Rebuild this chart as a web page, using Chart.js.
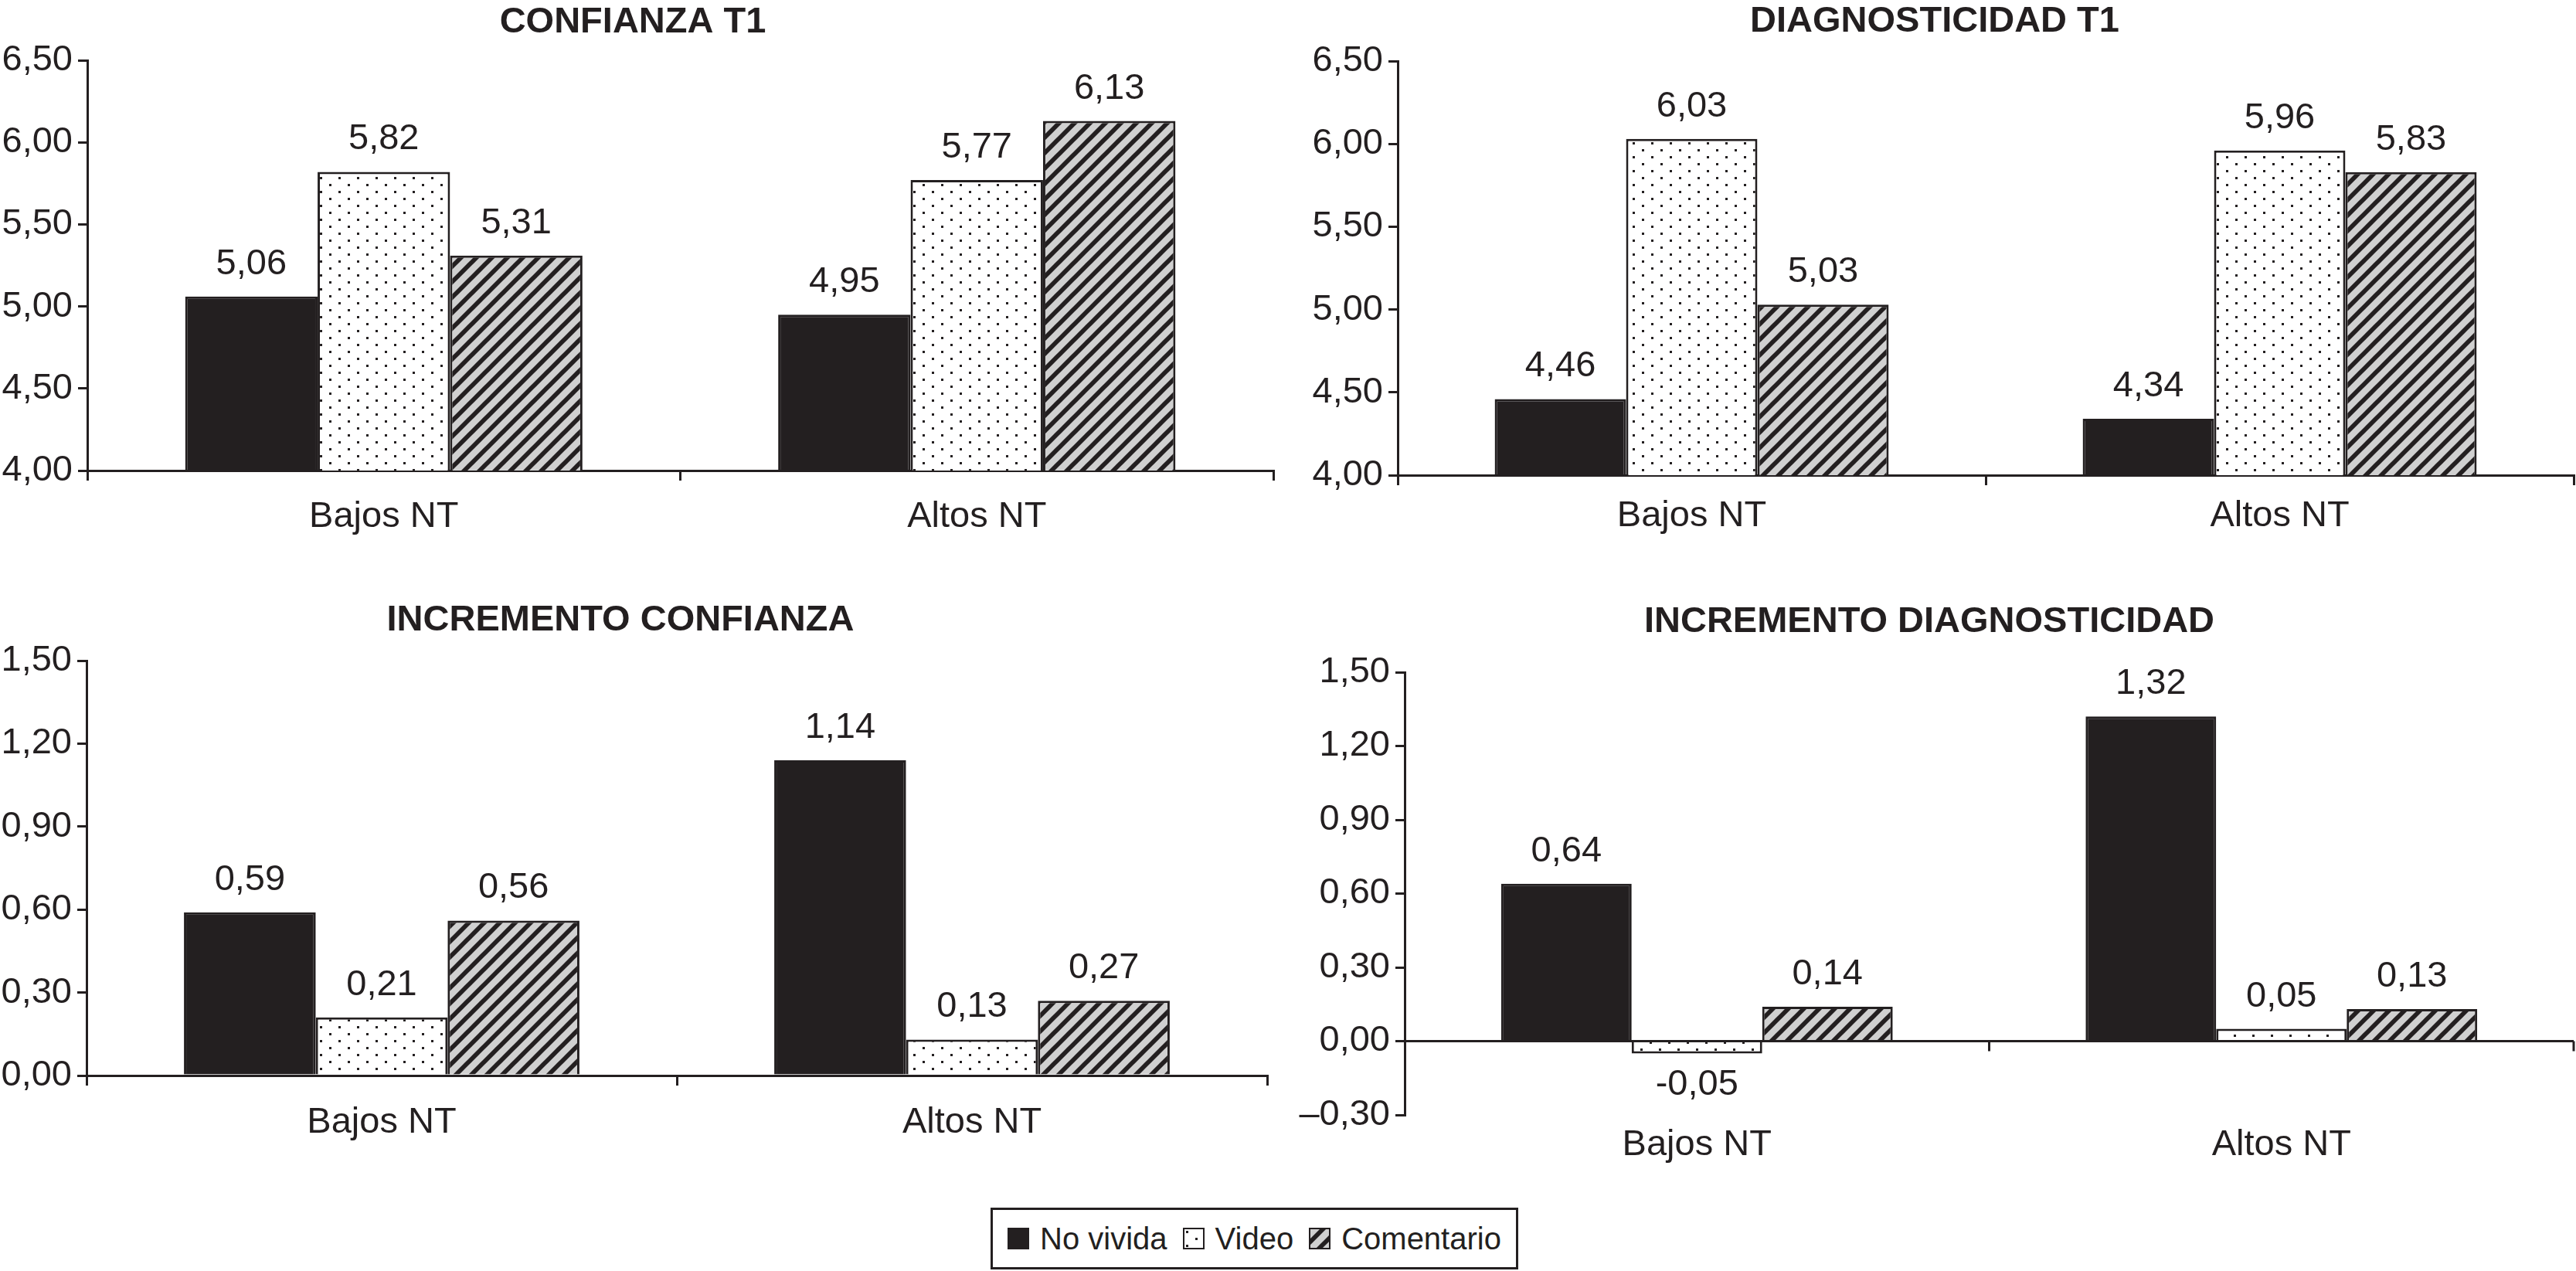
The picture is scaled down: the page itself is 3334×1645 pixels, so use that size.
<!DOCTYPE html>
<html>
<head>
<meta charset="utf-8">
<script src="https://cdn.jsdelivr.net/npm/chart.js@4.4.1/dist/chart.umd.min.js"></script>
<style>
  html, body { margin:0; padding:0; background:#fff; width:3334px; height:1645px; overflow:hidden; position:relative; }
  canvas.panel { position:absolute; }
  #legend { position:absolute; left:1282px; top:1563px; width:683px; height:80px; box-sizing:border-box;
            border:3px solid #231f20; display:flex; align-items:center; justify-content:center;
            font-family:"Liberation Sans", Arial, sans-serif; font-size:40px; color:#231f20; }
  #legend .item { display:flex; align-items:center; margin:0 10px; }
  #legend canvas { margin-right:14px; }
</style>
</head>
<body>
<canvas id="p1" class="panel"></canvas>
<canvas id="p2" class="panel"></canvas>
<canvas id="p3" class="panel"></canvas>
<canvas id="p4" class="panel"></canvas>
<div id="legend"></div>
<script>
// ---------- DATA ----------
const categories = ['Bajos NT', 'Altos NT'];
const seriesNames = ['No vivida', 'Video', 'Comentario'];

const confianzaT1NoVivida   = [5.06, 4.95];
const confianzaT1Video      = [5.82, 5.77];
const confianzaT1Comentario = [5.31, 6.13];

const diagT1NoVivida   = [4.46, 4.34];
const diagT1Video      = [6.03, 5.96];
const diagT1Comentario = [5.03, 5.83];

const incConfNoVivida   = [0.59, 1.14];
const incConfVideo      = [0.21, 0.13];
const incConfComentario = [0.56, 0.27];

const incDiagNoVivida   = [0.64, 1.32];
const incDiagVideo      = [-0.05, 0.05];
const incDiagComentario = [0.14, 0.13];

const ticksT1      = [4.00, 4.50, 5.00, 5.50, 6.00, 6.50];
const ticksIncConf = [0.00, 0.30, 0.60, 0.90, 1.20, 1.50];
const ticksIncDiag = [-0.30, 0.00, 0.30, 0.60, 0.90, 1.20, 1.50];

const titles = ['CONFIANZA T1', 'DIAGNOSTICIDAD T1', 'INCREMENTO CONFIANZA', 'INCREMENTO DIAGNOSTICIDAD'];

// ---------- STYLE ----------
const INK = '#231f20';
const FONT = '"Liberation Sans", Arial, sans-serif';
const GRAY = '#d0d0d0';

function makeDotTile() {
  const w = 24, h = 18;
  const c = document.createElement('canvas'); c.width = w; c.height = h;
  const g = c.getContext('2d');
  g.fillStyle = '#ffffff'; g.fillRect(0, 0, w, h);
  g.fillStyle = INK; g.fillRect(4, 4, 3, 3); g.fillRect(16, 13, 3, 3);
  return c;
}
function makeStripeTile() {
  const s = 20;
  const c = document.createElement('canvas'); c.width = s; c.height = s;
  const g = c.getContext('2d');
  g.fillStyle = GRAY; g.fillRect(0, 0, s, s);
  g.strokeStyle = INK; g.lineWidth = 5.8; g.lineCap = 'square';
  for (let k = -1; k <= 1; k++) {
    g.beginPath(); g.moveTo(k * s, s); g.lineTo(k * s + s, 0); g.stroke();
  }
  return c;
}
const dotTile = makeDotTile();
const stripeTile = makeStripeTile();
const patCtx = document.createElement('canvas').getContext('2d');
const dotPattern = patCtx.createPattern(dotTile, 'repeat');
const stripePattern = patCtx.createPattern(stripeTile, 'repeat');
const fills = [INK, dotPattern, stripePattern];

function fmtTick(v) {
  return Number(v).toFixed(2).replace('.', ',').replace('-', '\u2013');
}
function fmtValue(v) {
  return Number(v).toFixed(2).replace('.', ',');
}

const valueLabels = {
  id: 'valueLabels',
  afterDatasetsDraw(chart) {
    const ctx = chart.ctx;
    ctx.save();
    ctx.font = '47px ' + FONT;
    ctx.fillStyle = INK; ctx.textAlign = 'center'; ctx.textBaseline = 'middle';
    chart.data.datasets.forEach((ds, di) => {
      const meta = chart.getDatasetMeta(di);
      meta.data.forEach((bar, i) => {
        const v = ds.data[i];
        const y = v >= 0 ? bar.y - 42 : bar.y + 41;
        ctx.fillText(fmtValue(v), bar.x, y);
      });
    });
    ctx.restore();
  }
};

const zeroDividers = {
  id: 'zeroDividers',
  afterDatasetsDraw(chart) {
    const xs = chart.scales.x, ys = chart.scales.y;
    const y0 = ys.getPixelForValue(0);
    const ctx = chart.ctx;
    ctx.save(); ctx.strokeStyle = INK; ctx.lineWidth = 3;
    for (let i = 1; i <= chart.data.labels.length; i++) {
      const px = xs.getPixelForValue(i - 0.5);
      ctx.beginPath(); ctx.moveTo(px, y0); ctx.lineTo(px, y0 + 13); ctx.stroke();
    }
    ctx.restore();
  }
};

function makePanel(id, p) {
  const cv = document.getElementById(id);
  cv.width = p.w; cv.height = p.h;
  cv.style.left = p.left + 'px'; cv.style.top = p.top + 'px';
  cv.style.width = p.w + 'px'; cv.style.height = p.h + 'px';
  const datasets = p.series.map((arr, k) => ({
    label: seriesNames[k], data: arr,
    backgroundColor: fills[k], borderColor: INK, borderWidth: 3
  }));
  const plugins = [valueLabels];
  if (p.zero) plugins.push(zeroDividers);
  return new Chart(cv, {
    type: 'bar',
    data: { labels: categories, datasets },
    options: {
      responsive: false, animation: false, devicePixelRatio: 1,
      layout: { padding: { left: 0, right: p.padRight, top: 0, bottom: 0 } },
      datasets: { bar: { categoryPercentage: 0.67, barPercentage: 1.0 } },
      plugins: {
        legend: { display: false }, tooltip: { enabled: false },
        title: { display: true, text: p.title, color: INK,
                 font: { family: FONT, size: 47, weight: 'bold', lineHeight: 1.2 },
                 padding: { top: p.tTop, bottom: p.tBottom } }
      },
      scales: {
        x: {
          offset: true,
          grid: { display: true, offset: true, drawOnChartArea: false, drawTicks: !p.zero,
                  tickLength: 13, color: INK, tickColor: INK, lineWidth: 3, tickWidth: 3 },
          border: { display: !p.zero, color: INK, width: 3 },
          ticks: { color: INK, font: { family: FONT, size: 47, lineHeight: 1.2 }, padding: p.xPad,
                   maxRotation: 0, autoSkip: false },
          afterFit(s) { s.height = 90; }
        },
        y: {
          min: p.ticks[0], max: p.ticks[p.ticks.length - 1],
          grid: { display: true, drawOnChartArea: !!p.zero, drawTicks: true, tickLength: 12,
                  lineWidth: 3, tickWidth: 3, tickColor: INK,
                  color: (c) => (p.zero ? (c.tick && Math.abs(c.tick.value) < 1e-9 ? INK : 'rgba(0,0,0,0)') : INK) },
          border: { display: true, color: INK, width: 3 },
          ticks: { color: INK, font: { family: FONT, size: 47 }, padding: 7, callback: (v) => fmtTick(v) },
          afterBuildTicks(s) { s.ticks = p.ticks.map(v => ({ value: v })); },
          afterFit(s) { s.width = p.yW; }
        }
      }
    },
    plugins
  });
}

makePanel('p1', { left: -10, top: 0, w: 1660, h: 699, padRight: 2, yW: 123, tTop: 1, tBottom: 20.6, xPad: 19,
  title: titles[0], ticks: ticksT1, series: [confianzaT1NoVivida, confianzaT1Video, confianzaT1Comentario] });
makePanel('p2', { left: 1677, top: 0, w: 1657, h: 705, padRight: 3, yW: 132, tTop: 0, tBottom: 22.6, xPad: 12,
  title: titles[1], ticks: ticksT1, series: [diagT1NoVivida, diagT1Video, diagT1Comentario] });
makePanel('p3', { left: -34, top: 775, w: 1676, h: 707, padRight: 2, yW: 146, tTop: 0, tBottom: 23.6, xPad: 20,
  title: titles[2], ticks: ticksIncConf, series: [incConfNoVivida, incConfVideo, incConfComentario] });
makePanel('p4', { left: 1663, top: 777, w: 1671, h: 756, padRight: 3, yW: 155, tTop: 0, tBottom: 36.6, xPad: 11, zero: true,
  title: titles[3], ticks: ticksIncDiag, series: [incDiagNoVivida, incDiagVideo, incDiagComentario] });

// ---------- LEGEND (HTML, from series names) ----------
const legend = document.getElementById('legend');
seriesNames.forEach((name, k) => {
  const item = document.createElement('div'); item.className = 'item';
  const sw = document.createElement('canvas'); sw.width = 28; sw.height = 28;
  const g = sw.getContext('2d');
  g.fillStyle = fills[k]; g.fillRect(0, 0, 28, 28);
  g.strokeStyle = INK; g.lineWidth = 2; g.strokeRect(1, 1, 26, 26);
  const t = document.createElement('span'); t.textContent = name;
  item.appendChild(sw); item.appendChild(t);
  legend.appendChild(item);
});
</script>
</body>
</html>
